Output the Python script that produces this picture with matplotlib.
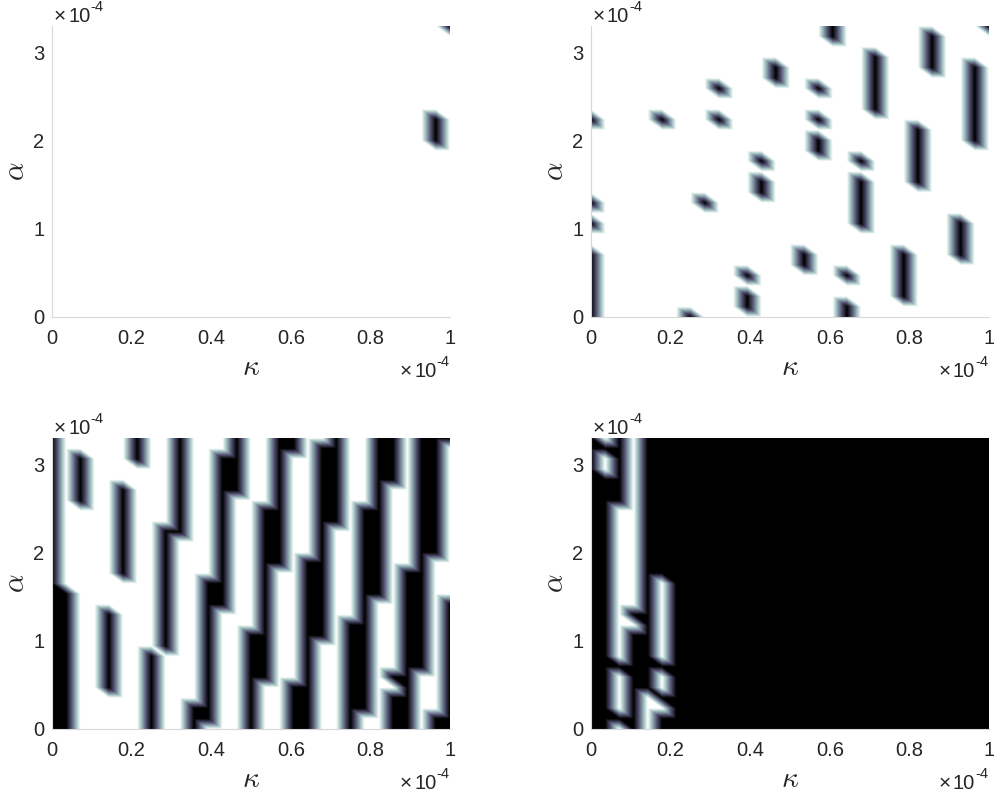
import numpy as np
import matplotlib
matplotlib.use("Agg")
import matplotlib.pyplot as plt
import matplotlib.tri as mtri

plt.rcParams['font.family'] = ['Liberation Sans', 'DejaVu Sans']
plt.rcParams['mathtext.fontset'] = 'cm'

KAPPA_MAX = 1.0
ALPHA_MAX = 3.3
N_NODES = 29
x_ticks = [0, 0.2, 0.4, 0.6, 0.8, 1]
x_tick_labels = ['0', '0.2', '0.4', '0.6', '0.8', '1']
y_ticks = [0, 1, 2, 3]
y_tick_labels = ['0', '1', '2', '3']

# column index -> runs of row indices (inclusive) with value "dark"
runs_a = {27: [(17, 19)], 28: [(28, 28)]}
runs_b = {
    0: [(0, 6), (9, 9), (11, 11), (19, 19)],
    5: [(19, 19)],
    7: [(0, 0)],
    8: [(11, 11)],
    9: [(19, 19), (22, 22)],
    11: [(1, 2), (4, 4)],
    12: [(12, 13), (15, 15)],
    13: [(23, 24)],
    15: [(5, 6)],
    16: [(16, 17), (19, 19), (22, 22)],
    17: [(27, 28)],
    18: [(0, 1), (4, 4)],
    19: [(9, 13), (15, 15)],
    20: [(20, 25)],
    22: [(2, 6)],
    23: [(13, 18)],
    24: [(24, 27)],
    26: [(6, 9)],
    27: [(17, 24)],
    28: [(28, 28)],
}
runs_c = {
    0: [(0, 28)],
    1: [(0, 13)],
    2: [(22, 26)],
    4: [(4, 11)],
    5: [(15, 23)],
    6: [(26, 28)],
    7: [(0, 7)],
    8: [(8, 19)],
    9: [(19, 28)],
    10: [(0, 2)],
    11: [(1, 14)],
    12: [(12, 26)],
    13: [(23, 28)],
    14: [(0, 9)],
    15: [(5, 21)],
    16: [(16, 28)],
    17: [(0, 4), (27, 28)],
    18: [(0, 16)],
    19: [(9, 27)],
    20: [(20, 28)],
    21: [(0, 10)],
    22: [(2, 21)],
    23: [(13, 28)],
    24: [(0, 3), (5, 5), (24, 28)],
    25: [(0, 15)],
    26: [(6, 28)],
    27: [(0, 1), (17, 28)],
    28: [(0, 12), (28, 28)],
}
# panel d is stored the other way round: runs of light nodes
light_runs_d = {
    1: [(25, 26), (28, 28)],
    2: [(0, 0), (2, 5), (7, 21)],
    3: [(10, 10), (12, 28)],
    4: [(0, 3)],
    5: [(2, 2), (4, 5), (7, 14)],
}


def from_runs(runs, fill, mark):
    grid = np.full((N_NODES, N_NODES), float(fill))
    for col, spans in runs.items():
        for lo, hi in spans:
            grid[lo:hi + 1, col] = mark
    return grid


panels = [
    from_runs(runs_a, 0, 1),
    from_runs(runs_b, 0, 1),
    from_runs(runs_c, 0, 1),
    from_runs(light_runs_d, 1, 0),
]

kappa = np.linspace(0, KAPPA_MAX, N_NODES)
alpha = np.linspace(0, ALPHA_MAX, N_NODES)
X, Y = np.meshgrid(kappa, alpha)
idx = np.arange(N_NODES ** 2).reshape(N_NODES, N_NODES)
tris = []
for j in range(N_NODES - 1):
    for i in range(N_NODES - 1):
        # each cell is split along its top-left to bottom-right diagonal
        tris.append([idx[j, i], idx[j, i + 1], idx[j + 1, i]])
        tris.append([idx[j + 1, i], idx[j, i + 1], idx[j + 1, i + 1]])
tri = mtri.Triangulation(X.ravel(), Y.ravel(), np.array(tris))

# sampling grid for the piecewise linear surface (cell centres, kept inside the mesh)
SAMPLES_X, SAMPLES_Y = 1200, 880
sx = (np.arange(SAMPLES_X) + 0.5) / SAMPLES_X * KAPPA_MAX
sy = (np.arange(SAMPLES_Y) + 0.5) / SAMPLES_Y * ALPHA_MAX
SX, SY = np.meshgrid(sx, sy)

W, H = 994, 796
fig = plt.figure(figsize=(W / 100, H / 100), dpi=100)
boxes = [(52, 26, 450, 317), (591, 26, 989, 317),
         (52, 438, 450, 729), (591, 438, 989, 729)]
TXT = '#262626'
EDGE = '#d8d8d8'

for box, Z in zip(boxes, panels):
    l, t, r, b = box
    ax = fig.add_axes([l / W, 1 - b / H, (r - l) / W, (b - t) / H])
    surf = mtri.LinearTriInterpolator(tri, Z.ravel())(SX, SY)
    ax.imshow(np.ma.filled(surf, 0), origin='lower', extent=(0, KAPPA_MAX, 0, ALPHA_MAX),
              aspect='auto', cmap='bone_r', vmin=0, vmax=1,
              interpolation='antialiased', interpolation_stage='rgba')
    ax.set_xlim(0, KAPPA_MAX)
    ax.set_ylim(0, ALPHA_MAX)
    ax.set_xticks(x_ticks, x_tick_labels)
    ax.set_yticks(y_ticks, y_tick_labels)
    ax.tick_params(axis='both', length=0, labelsize=14.5, labelcolor=TXT)
    ax.tick_params(axis='x', pad=9)
    ax.tick_params(axis='y', pad=5.5)
    for s in ['top', 'right']:
        ax.spines[s].set_visible(False)
    for s in ['left', 'bottom']:
        ax.spines[s].set_color(EDGE)
        ax.spines[s].set_linewidth(0.8)
    # axis names
    fig.text((l + r) / 2 / W, 1 - (b + 50) / H, r'$\kappa$', fontsize=21, color=TXT, ha='center', va='center')
    fig.text((l - 36) / W, 1 - (t + 145) / H, r'$\alpha$', fontsize=21, color=TXT, rotation=90, ha='center', va='center')
    # exponent labels
    for x0, base in [(l + 2, t - 4), (r - 50, b + 60)]:
        fig.text(x0 / W, 1 - base / H, '\u00d7', fontsize=15, color=TXT, ha='left', va='baseline')
        fig.text((x0 + 14) / W, 1 - base / H, '10', fontsize=14.5, color=TXT, ha='left', va='baseline')
        fig.text((x0 + 36) / W, 1 - (base - 11) / H, '-4', fontsize=10.5, color=TXT, ha='left', va='baseline')

fig.savefig('out.png', dpi=100)
